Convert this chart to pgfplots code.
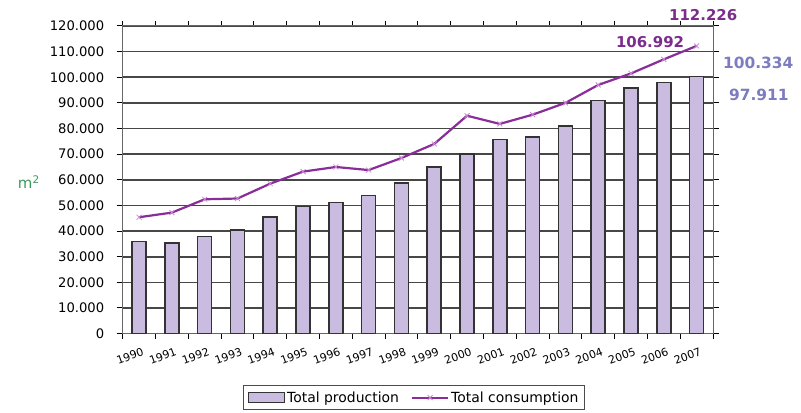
\documentclass[border=0pt]{standalone}
\usepackage{fontspec}
\setmainfont{DejaVu Sans}
\usepackage{pgfplots}
\pgfplotsset{compat=1.18}

\definecolor{barfill}{HTML}{C9BCE0}
\definecolor{consline}{HTML}{8A2C9A}
\definecolor{consmark}{HTML}{C98AD0}
\definecolor{labpurple}{HTML}{7B2C8C}
\definecolor{labblue}{HTML}{7C7CC0}
\definecolor{unitgreen}{HTML}{3A9A5B}

\pgfplotsset{
    bar legend img/.style={legend image code/.code={\draw[##1] (0bp,-5bp) rectangle (36bp,5bp);}},
    line legend img/.style={legend image code/.code={\draw[##1, mark repeat=2, mark phase=2] plot coordinates {(0bp,0bp) (18bp,0bp) (36bp,0bp)};}},
}

\begin{document}
\begin{tikzpicture}
\useasboundingbox (-122.7bp,-79.4bp) rectangle (678.3bp,333.6bp);
\begin{axis}[
    scale only axis,
    width=590.3bp, height=307.6bp,
    xmin=-0.5, xmax=17.5,
    ymin=0, ymax=120000,
    xtick={0,...,17},
    xticklabels={1990,1991,1992,1993,1994,1995,1996,1997,1998,1999,2000,2001,2002,2003,2004,2005,2006,2007},
    minor xtick={-0.5,0.5,...,17.5},
    ytick={0,10000,...,120000},
    yticklabels={0,10.000,20.000,30.000,40.000,50.000,60.000,70.000,80.000,90.000,100.000,110.000,120.000},
    scaled y ticks=false,
    tick align=outside,
    major tick length=6bp,
    minor tick length=5bp,
    major x tick style={draw=none},
    minor x tick style={black, line width=0.8bp},
    y tick style={black, line width=1bp},
    ymajorgrids,
    grid style={black!72, line width=1.6bp},
    axis line style={black!60, line width=1bp},
    tick label style={font=\fontsize{13.2}{15}\selectfont},
    x tick label style={font=\fontsize{11}{13}\selectfont, rotate=20, anchor=north east, inner sep=1bp, yshift=-7bp, xshift=1bp},
    y tick label style={xshift=-9bp},
    ylabel={m\textsuperscript{2}},
    ylabel style={rotate=-90, at={(rel axis cs:-0.159,0.493)}, anchor=center, font=\fontsize{15}{17}\selectfont, text=unitgreen},
    clip=false,
    legend style={at={(0.4935,-0.167)}, anchor=north, legend columns=-1,
        font=\fontsize{14}{16}\selectfont, draw=black!70, line width=1.2bp,
        inner xsep=4bp, inner ysep=4bp, /tikz/every even column/.append style={column sep=10bp}},
]
\addplot[ybar, bar width=14bp, fill=barfill, draw=black!80, line width=1.6bp, bar legend img]
    coordinates {
    (0, 35900) (1, 35300) (2, 37900) (3, 40400) (4, 45500) (5, 49600)
    (6, 51200) (7, 53800) (8, 58700) (9, 65000) (10, 70000) (11, 75700)
    (12, 76700) (13, 81000) (14, 91000) (15, 95800) (16, 97911) (17, 100334)
    };
\addplot[consline, line width=2.2bp, mark=x, mark size=3.5bp,
    mark options={consmark, line width=0.8bp}, line legend img]
    coordinates {
    (0, 45400) (1, 47200) (2, 52400) (3, 52700) (4, 58500) (5, 63200)
    (6, 65000) (7, 63800) (8, 68500) (9, 74000) (10, 85000) (11, 81800)
    (12, 85400) (13, 90000) (14, 97000) (15, 101500) (16, 106992) (17, 112226)
    };
\legend{Total production, Total consumption}
\node[font=\bfseries\fontsize{15}{17}\selectfont, text=labpurple] at (axis cs:17.2,124300) {112.226};
\node[font=\bfseries\fontsize{15}{17}\selectfont, text=labpurple] at (axis cs:15.58,113770) {106.992};
\node[font=\bfseries\fontsize{15.5}{17}\selectfont, text=labblue] at (axis cs:18.88,105540) {100.334};
\node[font=\bfseries\fontsize{15.5}{17}\selectfont, text=labblue] at (axis cs:18.9,93060) {97.911};
\end{axis}
\end{tikzpicture}
\end{document}
